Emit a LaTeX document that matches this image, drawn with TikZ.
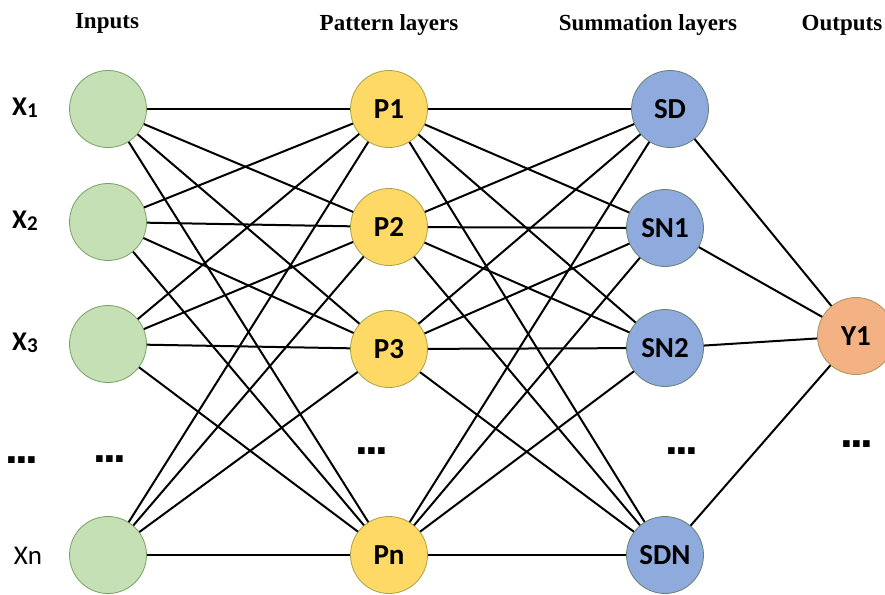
\documentclass[tikz,border=0pt]{standalone}
\usepackage{fontspec}
\setmainfont{Liberation Serif}
\newfontfamily\lblfont{Carlito}
\newfontfamily\dotfont{Liberation Sans}
\begin{document}
\begin{tikzpicture}[x=1pt,y=-1pt,
  neuron/.style={circle,minimum size=77pt,inner sep=0pt,line width=0.8pt,font=\lblfont\bfseries\fontsize{29}{29}\selectfont},
  inp/.style={neuron,fill={rgb,255:red,197;green,224;blue,180},draw={rgb,255:red,120;green,160;blue,100}},
  pat/.style={neuron,fill={rgb,255:red,255;green,217;blue,102},draw={rgb,255:red,170;green,160;blue,70}},
  summ/.style={neuron,fill={rgb,255:red,143;green,170;blue,220},draw={rgb,255:red,100;green,130;blue,110}},
  outn/.style={neuron,fill={rgb,255:red,244;green,177;blue,131},draw={rgb,255:red,160;green,150;blue,90}},
  title/.style={font=\bfseries\fontsize{23}{23}\selectfont,inner sep=0pt},
  xlbl/.style={font=\lblfont\bfseries\fontsize{27}{27}\selectfont,inner sep=0pt},
  dots/.style={font=\dotfont\bfseries\fontsize{46}{46}\selectfont,inner sep=0pt,anchor=base},
  conn/.style={line width=2pt,black}]
\useasboundingbox (0,0) rectangle (885,594);
% titles
\node[title] (tIn) at (107,23) {Inputs};
\node[title] (tPat) at (389,25) {Pattern layers};
\node[title] (tSum) at (648,25) {Summation layers};
\node[title] (tOut) at (842,25) {Outputs};
% input labels
\node[xlbl] (l1) at (25,108) {X{\fontsize{21}{21}\selectfont\raisebox{-2pt}{1}}};
\node[xlbl] (l2) at (25,221) {X{\fontsize{21}{21}\selectfont\raisebox{-2pt}{2}}};
\node[xlbl] (l3) at (25,343) {X{\fontsize{21}{21}\selectfont\raisebox{-2pt}{3}}};
\node[xlbl,font=\lblfont\fontsize{27}{27}\selectfont] (ln) at (28,556) {Xn};
% nodes
\node[inp] (x1) at (108,109) {};
\node[inp] (x2) at (108,222) {};
\node[inp] (x3) at (108,344) {};
\node[inp] (xn) at (108,555) {};
\node[pat] (p1) at (389,109) {P1};
\node[pat] (p2) at (389,227) {P2};
\node[pat] (p3) at (389,349) {P3};
\node[pat] (pn) at (389,555) {Pn};
\node[summ] (sd) at (670,109) {SD};
\node[summ] (sn1) at (665,228) {SN1};
\node[summ] (sn2) at (665,348) {SN2};
\node[summ] (sdn) at (665,555) {SDN};
\node[outn] (y1) at (856,336) {Y1};
% dots
\node[dots] (d0) at (22,463) {.\kern-2.5pt.\kern-2.5pt.};
\node[dots] (d1) at (110,462) {.\kern-2.5pt.\kern-2.5pt.};
\node[dots] (d2) at (372,454) {.\kern-2.5pt.\kern-2.5pt.};
\node[dots] (d3) at (682,454) {.\kern-2.5pt.\kern-2.5pt.};
\node[dots] (d4) at (857,447) {.\kern-2.5pt.\kern-2.5pt.};
% connections
\foreach \a in {x1,x2,x3,xn}{
  \foreach \b in {p1,p2,p3,pn}{
    \draw[conn] (\a) -- (\b);
  }
}
\foreach \a in {p1,p2,p3,pn}{
  \foreach \b in {sd,sn1,sn2,sdn}{
    \draw[conn] (\a) -- (\b);
  }
}
\foreach \a in {sd,sn1,sn2,sdn}{
  \draw[conn] (\a) -- (y1);
}
\end{tikzpicture}
\end{document}
